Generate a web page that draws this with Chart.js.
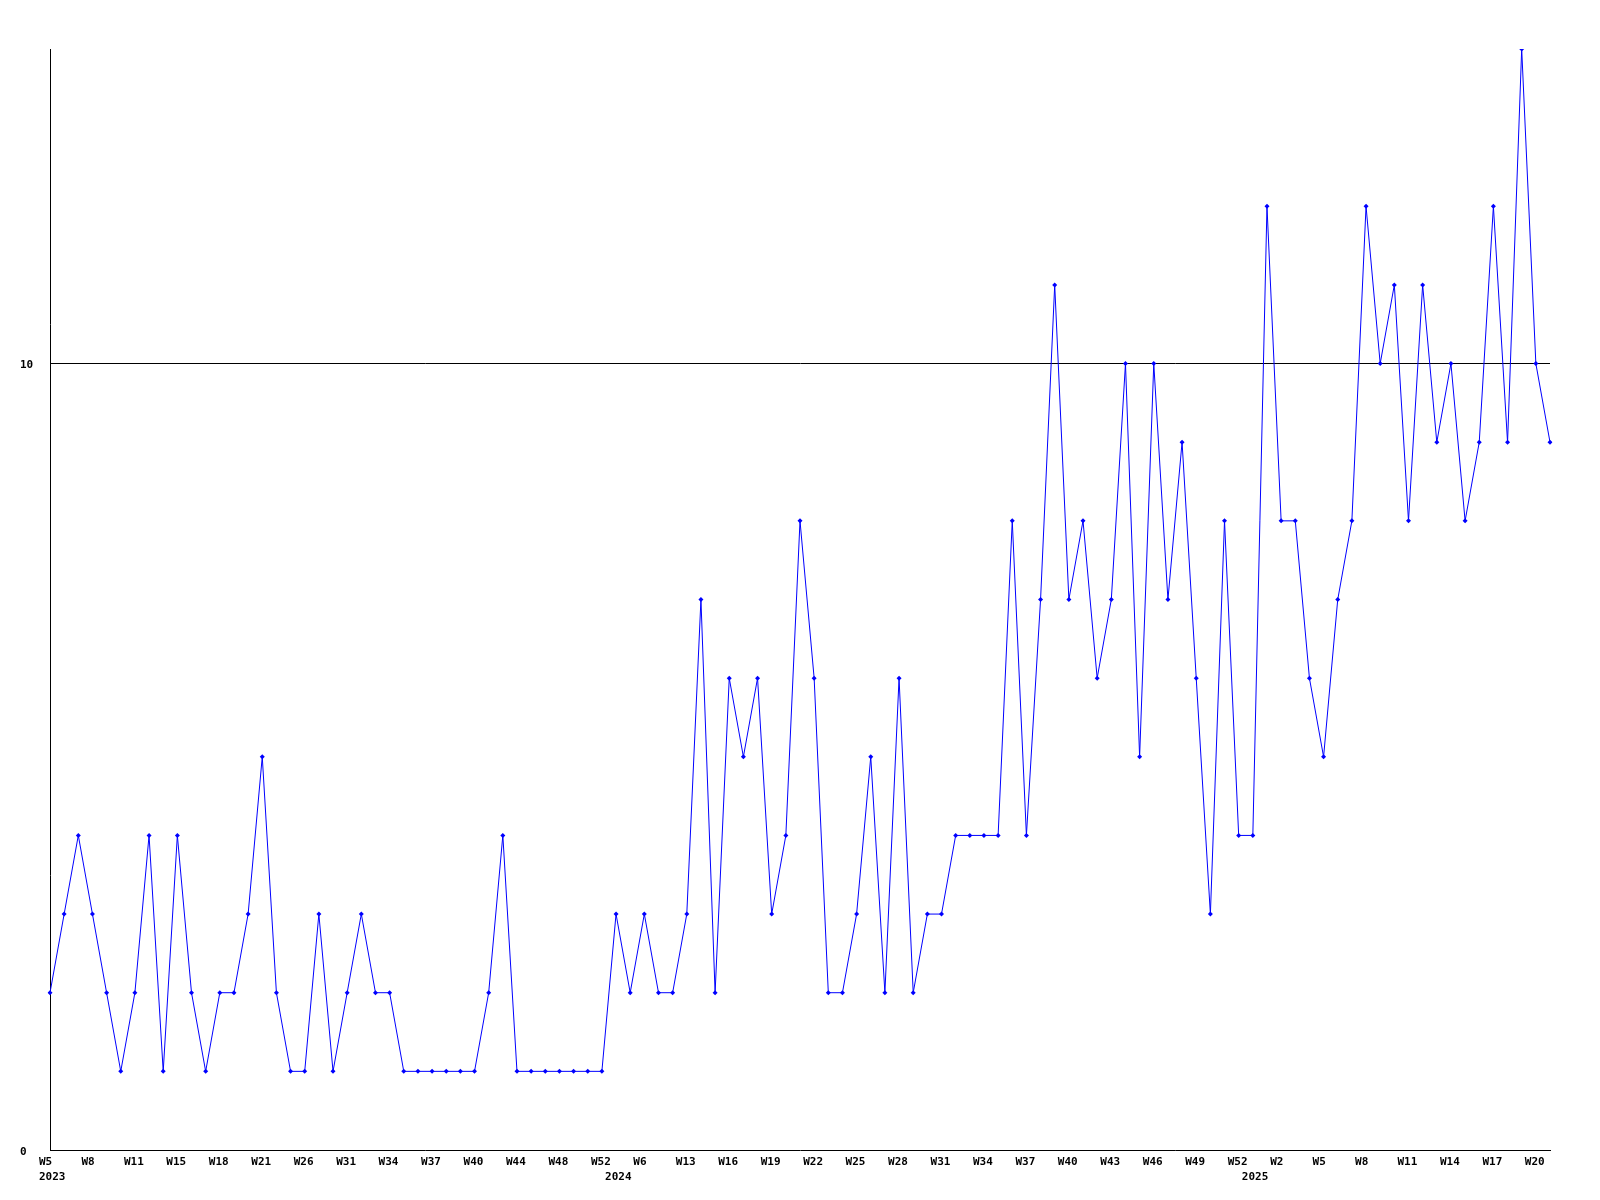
<!DOCTYPE html>
<html>
<head>
<meta charset="utf-8">
<title>Weekly count</title>
<script src="https://cdn.jsdelivr.net/npm/chart.js@4/dist/chart.umd.min.js"></script>
<style>
  html, body { margin: 0; padding: 0; background: #fff; }
  canvas { display: block; }
</style>
</head>
<body>
<canvas id="chart" width="1600" height="1200"></canvas>
<script>
// one entry per plotted week
const years = [
  '2023','2023','2023','2023','2023','2023','2023','2023','2023','2023',
  '2023','2023','2023','2023','2023','2023','2023','2023','2023','2023',
  '2023','2023','2023','2023','2023','2023','2023','2023','2023','2023',
  '2023','2023','2023','2023','2023','2023','2023','2023','2023','2023',
  '2024','2024','2024','2024','2024','2024','2024','2024','2024','2024',
  '2024','2024','2024','2024','2024','2024','2024','2024','2024','2024',
  '2024','2024','2024','2024','2024','2024','2024','2024','2024','2024',
  '2024','2024','2024','2024','2024','2024','2024','2024','2024','2024',
  '2024','2024','2024','2024','2024',
  '2025','2025','2025','2025','2025','2025','2025','2025','2025','2025',
  '2025','2025','2025','2025','2025','2025','2025','2025','2025','2025',
  '2025','2025'
];
const weeks = [
  'W5','W6','W7','W8','W9','W10','W11','W12','W13','W15',
  'W16','W17','W18','W19','W20','W21','W23','W24','W26','W28',
  'W29','W31','W32','W33','W34','W35','W36','W37','W38','W39',
  'W40','W41','W43','W44','W45','W46','W48','W49','W50','W52',
  'W1','W3','W6','W8','W10','W13','W14','W15','W16','W17',
  'W18','W19','W20','W21','W22','W23','W24','W25','W26','W27',
  'W28','W29','W30','W31','W32','W33','W34','W35','W36','W37',
  'W38','W39','W40','W41','W42','W43','W44','W45','W46','W47',
  'W48','W49','W50','W51','W52',
  'W0','W1','W2','W3','W4','W5','W6','W7','W8','W9',
  'W10','W11','W12','W13','W14','W15','W16','W17','W18','W19',
  'W20','W21'
];
const counts = [
  2,3,4,3,2,1,2,4,1,4,
  2,1,2,2,3,5,2,1,1,3,
  1,2,3,2,2,1,1,1,1,1,
  1,2,4,1,1,1,1,1,1,1,
  3,2,3,2,2,3,7,2,6,5,
  6,3,4,8,6,2,2,3,5,2,
  6,2,3,3,4,4,4,4,8,4,
  7,11,7,8,6,7,10,5,10,7,
  9,6,3,8,4,4,12,8,8,6,
  5,7,8,12,10,11,8,11,9,10,
  8,9,12,9,14,10,9
];
const yTicks = [0, 10];
const yMax = 14;
const labelEvery = 3;

const labels = weeks.map((w, i) => years[i] + ' ' + w);
const font = { family: "'DejaVu Sans Mono', monospace", size: 11, weight: 'bold', lineHeight: 1.36 };

new Chart(document.getElementById('chart'), {
  type: 'line',
  data: {
    labels: labels,
    datasets: [{
      data: counts,
      borderColor: '#0000ff',
      backgroundColor: '#0000ff',
      borderWidth: 1,
      tension: 0,
      fill: false,
      pointStyle: 'rectRot',
      pointRadius: 2.5,
      pointBorderWidth: 0,
      pointHoverRadius: 2.5
    }]
  },
  options: {
    responsive: false,
    animation: false,
    devicePixelRatio: 1,
    layout: { padding: { left: 20, right: 50, top: 49, bottom: 0 } },
    plugins: { legend: { display: false }, tooltip: { enabled: false } },
    scales: {
      x: {
        type: 'category',
        offset: false,
        grid: { display: false, drawTicks: false },
        border: { display: true, color: '#000', width: 1 },
        afterFit: (s) => { s.height = 50; },
        ticks: {
          autoSkip: false,
          maxRotation: 0,
          minRotation: 0,
          align: 'start',
          labelOffset: -11,
          padding: 5,
          color: '#000',
          font: font,
          callback: function (v, i) {
            const week = i % labelEvery === 0 ? weeks[i] : '';
            const newYear = i === 0 || years[i] !== years[i - 1];
            if (newYear) return [week, years[i]];
            return week;
          }
        }
      },
      y: {
        min: 0,
        max: yMax,
        afterFit: (s) => { s.width = 30; },
        afterBuildTicks: (s) => { s.ticks = yTicks.map(v => ({ value: v })); },
        grid: {
          drawTicks: false,
          lineWidth: 1,
          color: (ctx) => ctx.tick && ctx.tick.value === 10 ? '#000' : 'rgba(0,0,0,0)'
        },
        border: { display: true, color: '#000', width: 1 },
        ticks: {
          crossAlign: 'far',
          labelOffset: 2,
          color: '#000',
          font: font,
          padding: 0
        }
      }
    }
  }
});
</script>
</body>
</html>
